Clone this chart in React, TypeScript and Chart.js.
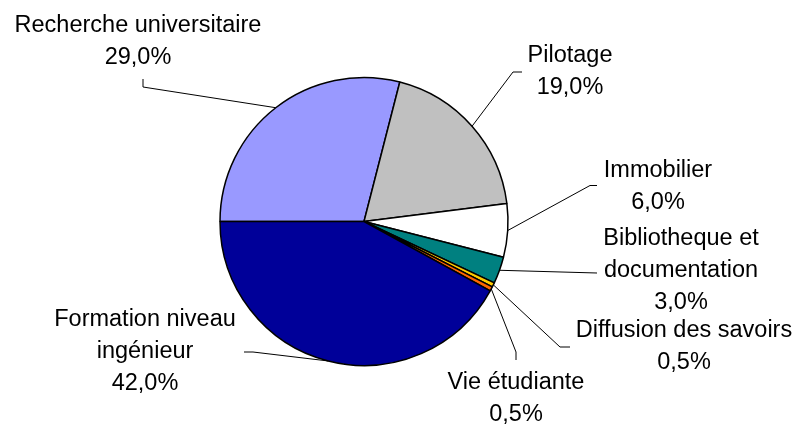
import React, { useEffect, useRef } from "react";
import { Chart, registerables } from "chart.js";

Chart.register(...registerables);

const categories: string[][] = [
  ["Recherche universitaire"],
  ["Pilotage"],
  ["Immobilier"],
  ["Bibliotheque et", "documentation"],
  ["Diffusion des savoirs"],
  ["Vie étudiante"],
  ["Formation niveau", "ingénieur"],
];
const values: number[] = [29.0, 19.0, 6.0, 3.0, 0.5, 0.5, 42.0];
const colors: string[] = ["#9999FF", "#C0C0C0", "#FFFFFF", "#008080", "#FFCC00", "#FF6600", "#000099"];

// label layout, offsets from the pie centre: [label centre x, first baseline y]
const labelOffsets: [number, number][] = [
  [-226, -189.5],
  [206, -159.5],
  [294, -44.5],
  [317, 23.5],
  [320, 115.5],
  [152, 167.5],
  [-219, 104.5],
];
// leader line bend and end points, offsets from the pie centre
const leaderPoints: [number, number][][] = [
  [[-221, -134.5], [-221, -142.5]],
  [[149, -149.5], [158, -149.5]],
  [[226, -36], [233, -36]],
  [[233, 51.5]],
  [[196, 125.5], [206, 125.5]],
  [[152, 130.5], [152, 138.5]],
  [[-111, 130.5], [-120, 130.5]],
];

const fmt = (v: number) => v.toFixed(1).replace(".", ",") + "%";

const labelPlugin = {
  id: "outsideLabels",
  afterDatasetsDraw(chart: any) {
    const ctx = chart.ctx;
    const meta = chart.getDatasetMeta(0);
    ctx.save();
    meta.data.forEach((arc: any, i: number) => {
      const { x, y, startAngle, endAngle, outerRadius } = arc.getProps(
        ["x", "y", "startAngle", "endAngle", "outerRadius"],
        true
      );
      const mid = (startAngle + endAngle) / 2;
      const sx = x + Math.cos(mid) * outerRadius;
      const sy = y + Math.sin(mid) * outerRadius;
      ctx.strokeStyle = "#000";
      ctx.lineWidth = 1;
      ctx.beginPath();
      ctx.moveTo(sx, sy);
      leaderPoints[i].forEach(([dx, dy]) => ctx.lineTo(x + dx, y + dy));
      ctx.stroke();

      const lines = [...categories[i], fmt(values[i])];
      ctx.fillStyle = "#000";
      ctx.font = '23.5px "Liberation Sans", Arial, sans-serif';
      ctx.textAlign = "center";
      ctx.textBaseline = "alphabetic";
      const [lx, ly] = labelOffsets[i];
      lines.forEach((t, k) => ctx.fillText(t, x + lx, y + ly + k * 32));
    });
    ctx.restore();
  },
};

export default function App() {
  const ref = useRef<HTMLCanvasElement | null>(null);
  useEffect(() => {
    if (!ref.current) return;
    const chart = new Chart(ref.current, {
      type: "pie",
      data: {
        labels: categories.map((c) => c.join(" ")),
        datasets: [
          {
            data: values,
            backgroundColor: colors,
            borderColor: "#000000",
            borderWidth: 1.5,
          },
        ],
      },
      options: {
        responsive: false,
        animation: false,
        rotation: -90,
        layout: { padding: { left: 219.25, right: 303.25, top: 76.75, bottom: 58.75 } },
        plugins: { legend: { display: false }, tooltip: { enabled: false } },
      },
      plugins: [labelPlugin],
    });
    return () => chart.destroy();
  }, []);
  return (
    <div style={{ position: "fixed", left: 0, top: 0, width: 812, height: 425, background: "#fff" }}>
      <canvas ref={ref} width={812} height={425} />
    </div>
  );
}
